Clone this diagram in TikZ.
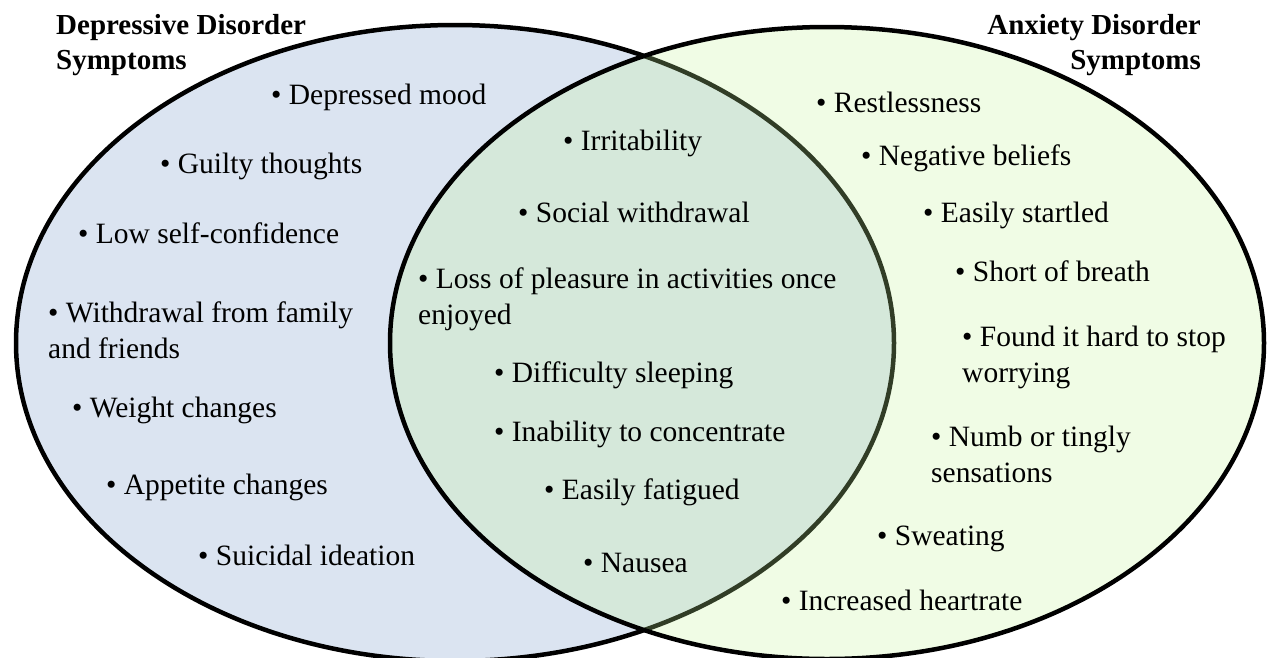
\documentclass[tikz,border=0pt]{standalone}
\usepackage{fontspec}
\setmainfont{Liberation Serif}
\usepackage{tikz}
\usetikzlibrary{positioning}
\definecolor{depblue}{RGB}{219,228,241}
\definecolor{anxgreen}{RGB}{196,244,152}
\tikzset{
    symptom/.style={
      anchor=west,
      inner sep=0pt,
      align=left,
      font=\fontsize{29.5}{36}\selectfont,
    },
    heading/.style={
      inner sep=0pt,
      font=\fontsize{29}{35}\selectfont\bfseries,
    },
    depset/.style={fill=depblue, draw=black, line width=4.5pt},
    anxset/.style={fill=anxgreen, fill opacity=0.25, draw=black, line width=4.5pt},
}

\begin{document}
\begin{tikzpicture}[x=1pt,y=-1pt]

    \useasboundingbox (0,0) rectangle (1267,657);

    % the two sets
    \path[depset] (455,343) ellipse [x radius=439pt, y radius=318pt];
    \path[anxset] (827,343) ellipse [x radius=437pt, y radius=316pt];

    % titles
    \node[heading, anchor=west, align=left] (deptitle) at (56,45.5)
    {Depressive Disorder \\ Symptoms};
    \node[heading, anchor=east, align=right] (anxtitle) at (1201,45.5)
    {Anxiety Disorder \\ Symptoms};

    % depressive only
    \node[symptom] (mood) at (271,97) {\textbullet\ Depressed mood};
    \node[symptom] (guilty) at (160,166) {\textbullet\ Guilty thoughts};
    \node[symptom] (confidence) at (78,233) {\textbullet\ Low self-confidence};
    \node[symptom] (family) at (48,330) {\textbullet\ Withdrawal from family \\ and friends};
    \node[symptom] (weight) at (72,410) {\textbullet\ Weight changes};
    \node[symptom] (appetite) at (106,487) {\textbullet\ Appetite changes};
    \node[symptom] (suicidal) at (198,555) {\textbullet\ Suicidal ideation};

    % shared
    \node[symptom] (irritability) at (563,143) {\textbullet\ Irritability};
    \node[symptom] (social) at (518,212) {\textbullet\ Social withdrawal};
    \node[symptom] (pleasure) at (418,299) {\textbullet\ Loss of pleasure in activities once \\ enjoyed};
    \node[symptom] (sleeping) at (494,375) {\textbullet\ Difficulty sleeping};
    \node[symptom] (concentrate) at (494,434) {\textbullet\ Inability to concentrate};
    \node[symptom] (fatigued) at (544,492) {\textbullet\ Easily fatigued};
    \node[symptom] (nausea) at (583,563) {\textbullet\ Nausea};

    % anxiety only
    \node[symptom] (restless) at (816,102) {\textbullet\ Restlessness};
    \node[symptom] (beliefs) at (861,158) {\textbullet\ Negative beliefs};
    \node[symptom] (startled) at (923,215) {\textbullet\ Easily startled};
    \node[symptom] (breath) at (955,271) {\textbullet\ Short of breath};
    \node[symptom] (worrying) at (962,357) {\textbullet\ Found it hard to stop \\ worrying};
    \node[symptom] (numb) at (931,454) {\textbullet\ Numb or tingly \\ sensations};
    \node[symptom] (sweating) at (877,539) {\textbullet\ Sweating};
    \node[symptom] (heartrate) at (781,600) {\textbullet\ Increased heartrate};

\end{tikzpicture}
\end{document}
